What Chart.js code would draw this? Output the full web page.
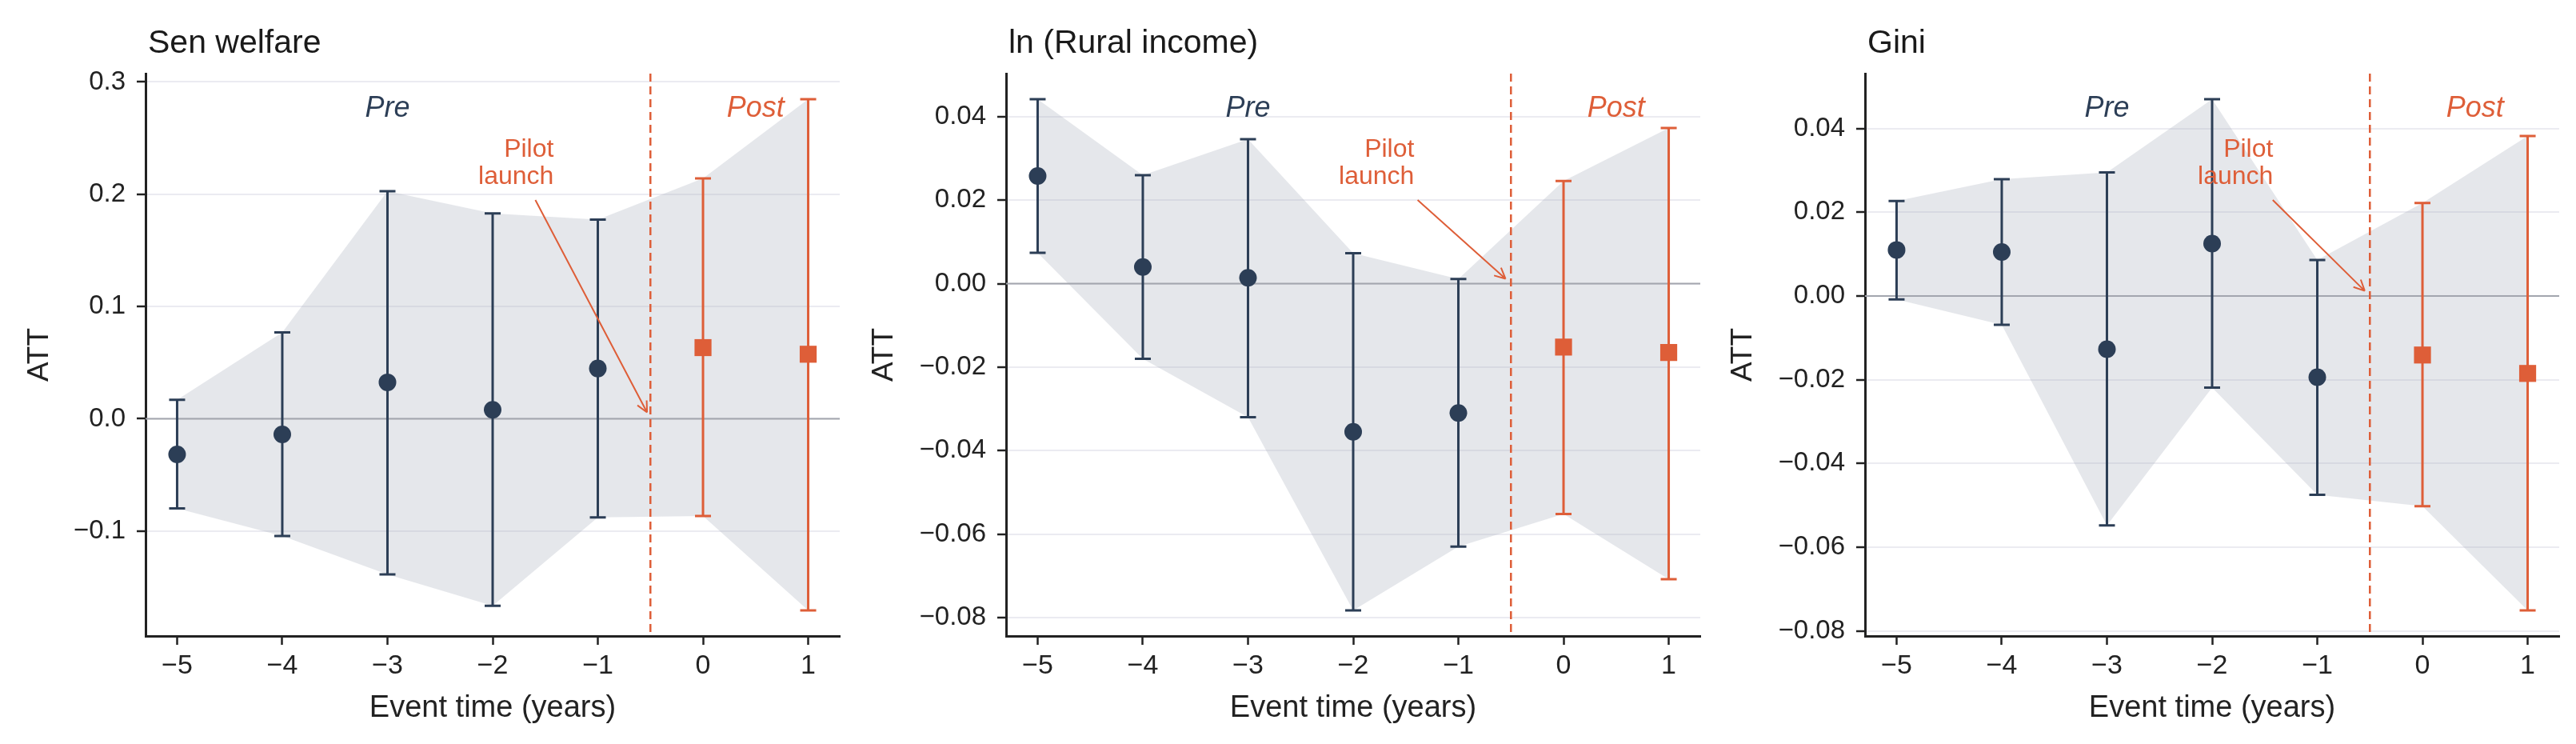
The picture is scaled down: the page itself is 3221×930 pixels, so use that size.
<!DOCTYPE html>
<html>
<head>
<meta charset="utf-8">
<script src="https://cdn.jsdelivr.net/npm/chart.js@4.4.1/dist/chart.umd.min.js"></script>
<style>
  html, body { margin: 0; padding: 0; background: #fff; }
  #wrap { position: relative; width: 3221px; height: 930px; overflow: hidden; }
  canvas { position: absolute; top: 0; }
</style>
</head>
<body>
<div id="wrap">
  <canvas id="c0" width="1070" height="930" style="left:0px"></canvas>
  <canvas id="c1" width="1070" height="930" style="left:1076px"></canvas>
  <canvas id="c2" width="1070" height="930" style="left:2150px"></canvas>
</div>
<script>
// event time (years), negative = pre-period
const eventTime = [-5, -4, -3, -2, -1, 0, 1];
const xTicks = [-5, -4, -3, -2, -1, 0, 1];

const titles = ['Sen welfare', 'ln (Rural income)', 'Gini'];

// Sen welfare
const senAtt  = [-0.0317, -0.0139, 0.0325, 0.0080, 0.0448, 0.0634, 0.0575];
const senLow  = [-0.0798, -0.1044, -0.1386, -0.1665, -0.0879, -0.0866, -0.1707];
const senHigh = [0.0169, 0.0769, 0.2028, 0.1829, 0.1774, 0.2142, 0.2847];
const senTicks = [-0.1, 0, 0.1, 0.2, 0.3];
const senTickLabels = ['\u22120.1', '0.0', '0.1', '0.2', '0.3'];

// ln (Rural income)
const incAtt  = [0.0258, 0.0040, 0.0014, -0.0355, -0.0310, -0.0152, -0.0165];
const incLow  = [0.0074, -0.0180, -0.0320, -0.0783, -0.0630, -0.0552, -0.0708];
const incHigh = [0.0442, 0.0260, 0.0346, 0.0073, 0.0011, 0.0246, 0.0373];

// Gini
const giniAtt  = [0.0110, 0.0105, -0.0127, 0.0125, -0.0194, -0.0141, -0.0185];
const giniLow  = [-0.0008, -0.0069, -0.0548, -0.0219, -0.0475, -0.0502, -0.0751];
const giniHigh = [0.0227, 0.0279, 0.0295, 0.0470, 0.0086, 0.0222, 0.0382];

const smallTicks = [-0.08, -0.06, -0.04, -0.02, 0, 0.02, 0.04];
const smallTickLabels = ['\u22120.08', '\u22120.06', '\u22120.04', '\u22120.02', '0.00', '0.02', '0.04'];

const NAVY = '#2c3e56';
const ORANGE = '#de5e38';
const BAND = 'rgba(168,174,190,0.3)';
const INK = '#222222';
const FONT = "'Liberation Sans', Arial, Helvetica, sans-serif";

// matplotlib style 5% margins
function padRange(lo, hi) {
    const r = hi - lo;
    return [lo - 0.05 * r, hi + 0.05 * r];
}

const panels = [
    { id: 'c0', title: titles[0], att: senAtt, lo: senLow, hi: senHigh, ticks: senTicks, labels: senTickLabels, attPad: 28 },
    { id: 'c1', title: titles[1], att: incAtt, lo: incLow, hi: incHigh, ticks: smallTicks, labels: smallTickLabels, attPad: 8 },
    { id: 'c2', title: titles[2], att: giniAtt, lo: giniLow, hi: giniHigh, ticks: smallTicks, labels: smallTickLabels, attPad: 8 }
];

const decor = {
    id: 'decor',
    // zero line and error bars sit above the band, below the markers
    afterDatasetDraw(chart, args, opts) {
        if (args.index !== 0) return;
        const { ctx, chartArea: a, scales: { x, y } } = chart;
        const p = opts.panel;
        const y0 = y.getPixelForValue(0);
        ctx.save();
        ctx.strokeStyle = '#a3a6ae';
        ctx.lineWidth = 2;
        ctx.beginPath();
        ctx.moveTo(a.left, y0);
        ctx.lineTo(a.right, y0);
        ctx.stroke();

        eventTime.forEach((t, i) => {
            const px = x.getPixelForValue(t);
            const top = y.getPixelForValue(p.hi[i]);
            const bot = y.getPixelForValue(p.lo[i]);
            ctx.strokeStyle = t < 0 ? NAVY : ORANGE;
            ctx.lineWidth = 3;
            ctx.beginPath();
            ctx.moveTo(px, top); ctx.lineTo(px, bot);
            ctx.moveTo(px - 10, top); ctx.lineTo(px + 10, top);
            ctx.moveTo(px - 10, bot); ctx.lineTo(px + 10, bot);
            ctx.stroke();
        });
        ctx.restore();
    },
    afterDatasetsDraw(chart, args, opts) {
        const { ctx, chartArea: a, scales: { x, y } } = chart;
        const p = opts.panel;
        const h = a.bottom - a.top;
        const w = a.right - a.left;
        ctx.save();

        // pilot launch line
        const xd = x.getPixelForValue(-0.5);
        ctx.strokeStyle = ORANGE;
        ctx.lineWidth = 2.5;
        ctx.setLineDash([10, 6]);
        ctx.beginPath();
        ctx.moveTo(xd, a.top);
        ctx.lineTo(xd, a.bottom);
        ctx.stroke();
        ctx.setLineDash([]);

        // Pre / Post labels
        const ly = a.bottom - 0.937 * h;
        ctx.font = `italic 36px ${FONT}`;
        ctx.textAlign = 'center';
        ctx.textBaseline = 'middle';
        ctx.fillStyle = NAVY;
        ctx.fillText('Pre', x.getPixelForValue(-3), ly);
        ctx.fillStyle = ORANGE;
        ctx.fillText('Post', x.getPixelForValue(0.5), ly);

        // "Pilot launch" note with arrow to (-0.5, 0)
        const rx = a.left + 0.588 * w;
        const l1 = a.bottom - 0.865 * h;
        const l2 = a.bottom - 0.8165 * h;
        ctx.font = `32px ${FONT}`;
        ctx.textAlign = 'right';
        ctx.fillText('Pilot', rx, l1);
        ctx.fillText('launch', rx, l2);
        const tw = ctx.measureText('launch').width;
        const cx = rx - tw / 2;
        const cy = (l1 + l2) / 2;
        const tx = xd, ty = y.getPixelForValue(0);
        const dx = tx - cx, dy = ty - cy;
        const len = Math.hypot(dx, dy);
        const ux = dx / len, uy = dy / len;
        const s = 46 / dy;
        const sx = cx + dx * s, sy = cy + dy * s;
        const ex = tx - ux * 9, ey = ty - uy * 9;
        ctx.strokeStyle = ORANGE;
        ctx.lineWidth = 2;
        ctx.beginPath();
        ctx.moveTo(sx, sy);
        ctx.lineTo(ex, ey);
        const ang = Math.atan2(uy, ux);
        [0.45, -0.45].forEach(d => {
            ctx.moveTo(ex, ey);
            ctx.lineTo(ex - 15 * Math.cos(ang + d), ey - 15 * Math.sin(ang + d));
        });
        ctx.stroke();

        // panel title
        ctx.font = `41px ${FONT}`;
        ctx.textAlign = 'left';
        ctx.textBaseline = 'alphabetic';
        ctx.fillStyle = '#1a1a1a';
        ctx.fillText(p.title, a.left + 3, 66);
        ctx.restore();
    }
};

const xRange = padRange(Math.min(...xTicks), Math.max(...xTicks));

panels.forEach(p => {
    const yRange = padRange(Math.min(...p.lo), Math.max(...p.hi));
    const pts = (arr) => eventTime.map((t, i) => ({ x: t, y: arr[i] }));
    const pre = eventTime.map((t, i) => ({ x: t, y: p.att[i] })).filter(d => d.x < 0);
    const post = eventTime.map((t, i) => ({ x: t, y: p.att[i] })).filter(d => d.x >= 0);

    new Chart(document.getElementById(p.id), {
        type: 'scatter',
        data: {
            datasets: [
                { type: 'line', data: pts(p.hi), fill: '+1', backgroundColor: BAND, borderColor: 'transparent', borderWidth: 0, pointRadius: 0, tension: 0, order: 3 },
                { type: 'line', data: pts(p.lo), fill: false, borderColor: 'transparent', borderWidth: 0, pointRadius: 0, tension: 0, order: 3 },
                { data: pre, pointStyle: 'circle', pointRadius: 11, backgroundColor: NAVY, borderWidth: 0, order: 1 },
                { data: post, pointStyle: 'rect', pointRadius: 15, backgroundColor: ORANGE, borderWidth: 0, order: 1 }
            ]
        },
        options: {
            responsive: false,
            devicePixelRatio: 1,
            animation: false,
            events: [],
            layout: { padding: { top: 92, right: 20, left: 0, bottom: 0 } },
            plugins: {
                legend: { display: false },
                tooltip: { enabled: false },
                decor: { panel: p }
            },
            scales: {
                x: {
                    type: 'linear',
                    bounds: 'data',
                    min: xRange[0],
                    max: xRange[1],
                    afterBuildTicks: s => { s.ticks = xTicks.map(v => ({ value: v })); },
                    afterFit: s => { s.height = 135; },
                    border: { color: INK, width: 3 },
                    grid: { drawOnChartArea: false, drawTicks: true, tickLength: 11, tickColor: INK, tickWidth: 2.5 },
                    ticks: {
                        padding: 6, color: INK, maxRotation: 0, autoSkip: false,
                        font: { family: FONT, size: 34 },
                        callback: v => String(v).replace('-', '\u2212')
                    },
                    title: {
                        display: true, text: 'Event time (years)', color: INK,
                        font: { family: FONT, size: 38 },
                        padding: { top: 0, bottom: 22 }
                    }
                },
                y: {
                    type: 'linear',
                    bounds: 'data',
                    min: yRange[0],
                    max: yRange[1],
                    afterBuildTicks: s => { s.ticks = p.ticks.map(v => ({ value: v })); },
                    afterFit: s => { s.width = 182; },
                    border: { color: INK, width: 3 },
                    grid: { color: '#ebebf1', lineWidth: 2, drawTicks: true, tickLength: 11, tickColor: INK, tickWidth: 2.5 },
                    ticks: {
                        padding: 14, color: INK,
                        font: { family: FONT, size: 33 },
                        callback: (v, i) => p.labels[i]
                    },
                    title: {
                        display: true, text: 'ATT', color: INK,
                        font: { family: FONT, size: 37 },
                        padding: { top: p.attPad, bottom: 0 }
                    }
                }
            }
        },
        plugins: [decor]
    });
});
</script>
</body>
</html>
